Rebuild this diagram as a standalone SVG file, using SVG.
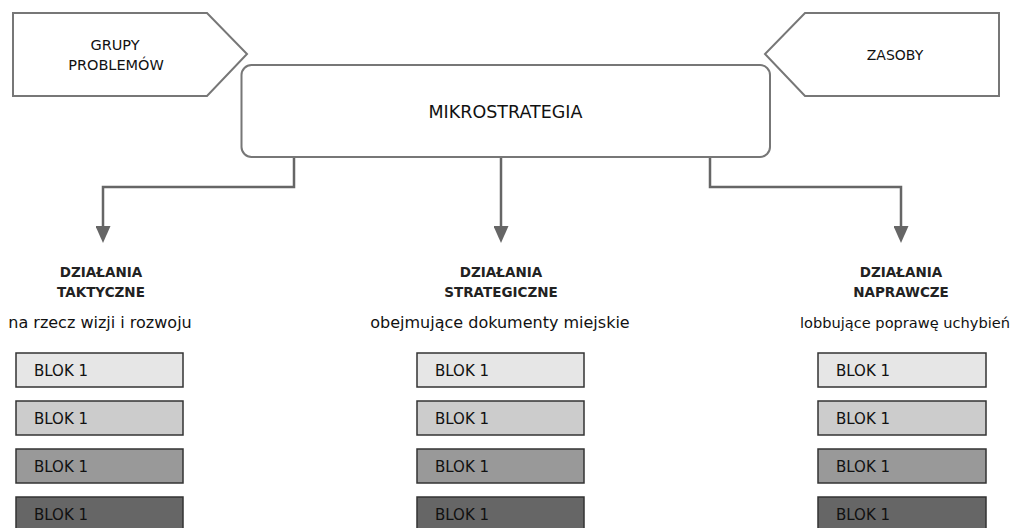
<svg xmlns="http://www.w3.org/2000/svg" width="1016" height="528" viewBox="0 0 1016 528">
  <style>
    .shape { fill: #ffffff; stroke: #777777; stroke-width: 2; }
    .conn { fill: none; stroke: #666666; stroke-width: 2.5; }
    .t { font-family: "DejaVu Sans", Verdana, sans-serif; font-size: 14px; fill: #111111; }
    .c { text-anchor: middle; }
    .h { font-family: "DejaVu Sans", Verdana, sans-serif; font-size: 13.5px; font-weight: bold; fill: #222222; text-anchor: middle; }
    .sub { font-family: "DejaVu Sans", Verdana, sans-serif; font-size: 16px; fill: #111111; text-anchor: middle; }
    .main { font-size: 17.5px; }
    .gp { font-size: 14.5px; }
    .bt { font-size: 15px; }
    .narrow { font-size: 14.6px; }
    .blk { stroke: #333333; stroke-width: 1.5; }
    .b1 { fill: #e6e6e6; }
    .b2 { fill: #cccccc; }
    .b3 { fill: #999999; }
    .b4 { fill: #666666; }
  </style>
  <defs>
    <marker id="arrow" viewBox="0 0 17 15" refX="4" refY="7.5" markerWidth="17" markerHeight="15" markerUnits="userSpaceOnUse" orient="auto">
      <path d="M0,0 L17,7.5 L0,15 Z" fill="#666666"/>
    </marker>
  </defs>
  <rect width="1016" height="528" fill="#ffffff"/>

  <g id="connectors">
    <path class="conn" d="M294,157 V187 H103 V230" marker-end="url(#arrow)"/>
    <path class="conn" d="M501,157 V230" marker-end="url(#arrow)"/>
    <path class="conn" d="M710,157 V187 H901 V230" marker-end="url(#arrow)"/>
  </g>

  <g id="grupy-problemow">
    <polygon class="shape" points="13,13 207,13 247,54 207,96 13,96"/>
    <text class="t c gp" x="115" y="50">GRUPY</text>
    <text class="t c gp" x="116" y="70">PROBLEMÓW</text>
  </g>

  <g id="zasoby">
    <polygon class="shape" points="805,13 999,13 999,96 805,96 765,54"/>
    <text class="t c" x="895" y="60">ZASOBY</text>
  </g>

  <g id="mikrostrategia">
    <rect class="shape" x="241.5" y="65" width="528.5" height="92" rx="10" ry="10"/>
    <text class="t c main" x="505.5" y="118">MIKROSTRATEGIA</text>
  </g>

  <g id="taktyczne">
    <text class="h" x="101" y="277">DZIAŁANIA</text>
    <text class="h" x="101" y="297">TAKTYCZNE</text>
    <text class="sub" x="100" y="328">na rzecz wizji i rozwoju</text>
  </g>
  <g id="strategiczne">
    <text class="h" x="501" y="277">DZIAŁANIA</text>
    <text class="h" x="501" y="297">STRATEGICZNE</text>
    <text class="sub" x="500" y="328">obejmujące dokumenty miejskie</text>
  </g>
  <g id="naprawcze">
    <text class="h" x="901" y="277">DZIAŁANIA</text>
    <text class="h" x="901" y="297">NAPRAWCZE</text>
    <text class="sub narrow" x="905" y="328">lobbujące poprawę uchybień</text>
  </g>

  <g id="blocks-left">
    <rect class="blk b1" x="16" y="353" width="167" height="34"/>
    <text class="t bt" x="34" y="376">BLOK 1</text>
    <rect class="blk b2" x="16" y="401" width="167" height="34"/>
    <text class="t bt" x="34" y="424">BLOK 1</text>
    <rect class="blk b3" x="16" y="449" width="167" height="34"/>
    <text class="t bt" x="34" y="472">BLOK 1</text>
    <rect class="blk b4" x="16" y="497" width="167" height="34"/>
    <text class="t bt" x="34" y="520">BLOK 1</text>
  </g>
  <g id="blocks-middle">
    <rect class="blk b1" x="417" y="353" width="167" height="34"/>
    <text class="t bt" x="435" y="376">BLOK 1</text>
    <rect class="blk b2" x="417" y="401" width="167" height="34"/>
    <text class="t bt" x="435" y="424">BLOK 1</text>
    <rect class="blk b3" x="417" y="449" width="167" height="34"/>
    <text class="t bt" x="435" y="472">BLOK 1</text>
    <rect class="blk b4" x="417" y="497" width="167" height="34"/>
    <text class="t bt" x="435" y="520">BLOK 1</text>
  </g>
  <g id="blocks-right">
    <rect class="blk b1" x="818" y="353" width="168" height="34"/>
    <text class="t bt" x="836" y="376">BLOK 1</text>
    <rect class="blk b2" x="818" y="401" width="168" height="34"/>
    <text class="t bt" x="836" y="424">BLOK 1</text>
    <rect class="blk b3" x="818" y="449" width="168" height="34"/>
    <text class="t bt" x="836" y="472">BLOK 1</text>
    <rect class="blk b4" x="818" y="497" width="168" height="34"/>
    <text class="t bt" x="836" y="520">BLOK 1</text>
  </g>
</svg>
